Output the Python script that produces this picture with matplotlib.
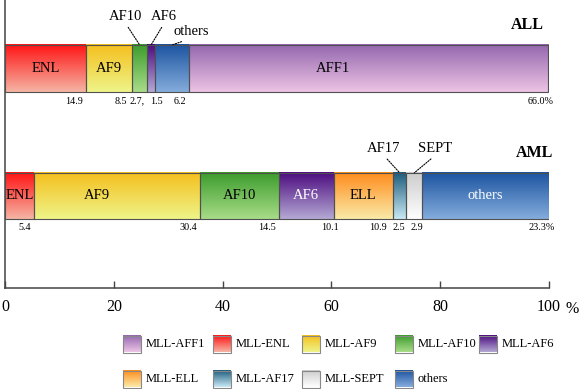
import numpy as np
import matplotlib
matplotlib.use('Agg')
import matplotlib.pyplot as plt
from matplotlib.colors import to_rgb

# MLL fusion partner distribution (%) in ALL and AML
all_partners = ["ENL", "AF9", "AF10", "AF6", "others", "AFF1"]
all_values = [14.9, 8.5, 2.7, 1.5, 6.2, 66.0]
all_value_labels = ["14.9", "8.5", "2.7,", "1.5", "6.2", "66.0%"]

aml_partners = ["ENL", "AF9", "AF10", "AF6", "ELL", "AF17", "SEPT", "others"]
aml_values = [5.4, 30.4, 14.5, 10.1, 10.9, 2.5, 2.9, 23.3]
aml_value_labels = ["5.4", "30.4", "14.5", "10.1", "10.9", "2.5", "2.9", "23.3%"]

legend_partners = ["AFF1", "ENL", "AF9", "AF10", "AF6", "ELL", "AF17", "SEPT", "others"]
legend_labels = ["MLL-AFF1", "MLL-ENL", "MLL-AF9", "MLL-AF10", "MLL-AF6",
                 "MLL-ELL", "MLL-AF17", "MLL-SEPT", "others"]

x_ticks = [0, 20, 40, 60, 80, 100]

# top / bottom colour of the vertical gradient of each partner
colors = {
    "ENL": ("#ff1414", "#f5b4a4"),
    "AF9": ("#f5bf1e", "#eef488"),
    "AF10": ("#3c9c2c", "#a8dc88"),
    "AF6": ("#4c0c80", "#b4a8d4"),
    "others": ("#1c54a0", "#84acdc"),
    "AFF1": ("#9466ae", "#ecc4e4"),
    "ELL": ("#ff8c1c", "#faeaa8"),
    "AF17": ("#1c5c7c", "#c8e8f4"),
    "SEPT": ("#cccccc", "#ffffff"),
}
white_text = {("AML", "AF6"), ("AML", "others")}
# where the name sits inside a segment (fraction of its width)
name_pos = {("ALL", "AFF1"): 0.40, ("AML", "AF9"): 0.38}
# names written above the bar with a dotted leader: (dx, dy) in px
above = {
    ("ALL", "AF10"): (-14, 28),
    ("ALL", "AF6"): (13, 28),
    ("ALL", "others"): (19, 13),
    ("AML", "AF17"): (-16, 24),
    ("AML", "SEPT"): (21, 24),
}
# small horizontal nudges of the value labels, px
value_nudge = {("ALL", "AF9"): -5, ("ALL", "AF10"): -2, ("ALL", "AF6"): 8,
               ("ALL", "AFF1"): 6, ("AML", "AF6"): 5, ("AML", "ELL"): -6,
               ("AML", "AF17"): -1, ("AML", "SEPT"): 1, ("AML", "others"): 6}

plt.rcParams['font.family'] = ['Liberation Serif', 'DejaVu Serif']
PT = 0.72  # points per pixel at dpi 100


def gradient(top, bottom, n=64):
    t = np.linspace(0, 1, n)[:, None]
    return (1 - t) * np.array(to_rgb(top)) + t * np.array(to_rgb(bottom))


def draw_bar(ax, name, partners, values, value_labels, y0, y1):
    lefts = np.concatenate([[0], np.cumsum(values)[:-1]])
    for p, v, left, lab in zip(partners, values, lefts, value_labels):
        right = left + v
        img = gradient(*colors[p])[:, None, :]
        ax.imshow(img, extent=(left, right, y0, y1), origin='upper',
                  aspect='auto', interpolation='bilinear', zorder=2)
        ax.add_patch(plt.Rectangle((left, y0), v, y1 - y0, fill=False,
                                   edgecolor='#505050', lw=0.8, zorder=3))
        key = (name, p)
        if key in above:
            dx, dy = above[key]
            ax.annotate(p, xy=(left + v / 2, y1), xytext=(dx * PT, dy * PT),
                        textcoords='offset points', ha='center', va='center',
                        fontsize=10.5,
                        arrowprops=dict(arrowstyle='-', linestyle=(0, (1.2, 1.2)),
                                        color='k', lw=0.8, shrinkA=1, shrinkB=0,
                                        relpos=(0.5, 0)))
        else:
            fx = name_pos.get(key, 0.5)
            ax.text(left + v * fx, (y0 + y1) / 2, p, ha='center', va='center',
                    fontsize=10.5, zorder=4,
                    color='white' if key in white_text else 'black')
        nud = value_nudge.get(key, -3)
        ax.annotate(lab, xy=(right, y0), xytext=(nud * PT, -9 * PT),
                    textcoords='offset points', ha='right', va='center',
                    fontsize=7.3)


fig = plt.figure(figsize=(5.82, 3.89), dpi=100)
ax = fig.add_axes([5 / 582, 1 - 288 / 389, 544 / 582, 288 / 389])

draw_bar(ax, "ALL", all_partners, all_values, all_value_labels, 0.68, 0.844)
draw_bar(ax, "AML", aml_partners, aml_values, aml_value_labels, 0.24, 0.40)

ax.text(96.1, 0.913, "ALL", ha='center', va='center', fontsize=11.5,
        fontweight='bold')
ax.text(97.4, 0.469, "AML", ha='center', va='center', fontsize=11.5,
        fontweight='bold')

ax.set_xlim(0, 100)
ax.set_ylim(0, 1)
ax.set_xticks(x_ticks)
ax.set_yticks([])
ax.tick_params(axis='x', direction='in', length=5, width=1, color='#444444',
               labelsize=11.5, pad=8)
for s in ['top', 'right']:
    ax.spines[s].set_visible(False)
for s in ['left', 'bottom']:
    ax.spines[s].set_color('#444444')
    ax.spines[s].set_linewidth(1.1)
ax.annotate('%', xy=(100, 0), xycoords=('data', 'axes fraction'),
            xytext=(23 * PT, -21 * PT), textcoords='offset points',
            ha='center', va='center', fontsize=11.5)

# legend drawn in figure pixel space
lax = fig.add_axes([0, 0, 1, 1], zorder=-1)
lax.axis('off')
col_x = [123, 213, 302, 395, 479]
row_y = [344, 379]
for i, (p, lab) in enumerate(zip(legend_partners, legend_labels)):
    r, c = divmod(i, 5)
    x, y = col_x[c], row_y[r]
    img = gradient(*colors[p])[:, None, :]
    lax.imshow(img, extent=(x, x + 18, y + 8.5, y - 8.5), origin='upper',
               aspect='auto', interpolation='bilinear')
    lax.add_patch(plt.Rectangle((x, y - 8.5), 18, 17, fill=False,
                                edgecolor='#888888', lw=0.8))
    lax.text(x + 23, y, lab, ha='left', va='center', fontsize=9)
lax.set_xlim(0, 582)
lax.set_ylim(389, 0)

fig.savefig('out.png', dpi=100)
